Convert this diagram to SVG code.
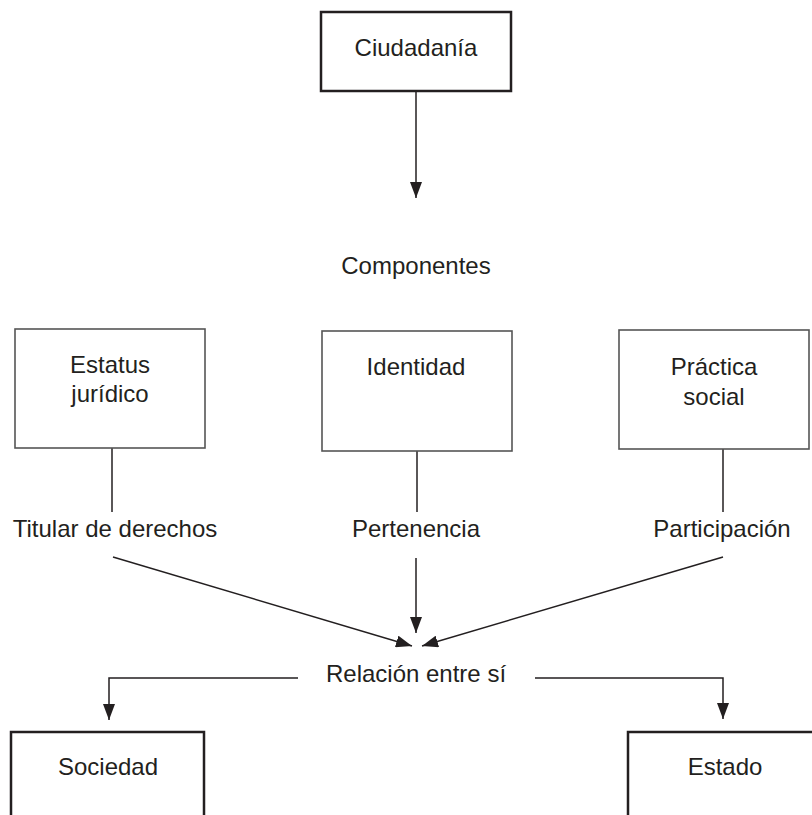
<svg xmlns="http://www.w3.org/2000/svg" width="812" height="815" viewBox="0 0 812 815">
<defs>
<marker id="arr" viewBox="0 0 16 12" refX="16" refY="6" markerWidth="16" markerHeight="12" markerUnits="userSpaceOnUse" orient="auto">
<path d="M0,0 L16,6 L0,12 z" fill="#231f20"/>
</marker>
<style>
.t{font-family:"Liberation Sans",Arial,sans-serif;font-size:24px;fill:#231f20;text-anchor:middle}
.bx{fill:#fff;stroke:#231f20;stroke-width:2.5}
.bt{fill:#fff;stroke:#555;stroke-width:1.6}
.c{fill:none;stroke:#231f20;stroke-width:1.5}
.ca{fill:none;stroke:#231f20;stroke-width:1.5;marker-end:url(#arr)}
</style>
</defs>
<rect width="812" height="815" fill="#fff"/>
<g id="connectors">
<line class="ca" x1="416" y1="92" x2="416" y2="198"/>
<line class="c" x1="112" y1="448" x2="112" y2="512"/>
<line class="c" x1="417" y1="451" x2="417" y2="512"/>
<line class="c" x1="723" y1="449" x2="723" y2="512"/>
<line class="ca" x1="113" y1="557" x2="412" y2="646"/>
<line class="ca" x1="416" y1="558" x2="416" y2="633"/>
<line class="ca" x1="723" y1="557" x2="422" y2="646"/>
<polyline class="ca" points="298,678 109,678 109,720"/>
<polyline class="ca" points="535,678 723,678 723,719"/>
</g>
<g id="ciudadania">
<rect class="bx" x="321" y="12" width="190" height="79"/>
<text class="t" x="416" y="56">Ciudadanía</text>
</g>
<g id="componentes">
<text class="t" x="416" y="274">Componentes</text>
</g>
<g id="estatus">
<rect class="bt" x="15" y="329" width="190" height="119"/>
<text class="t" x="110" y="373">Estatus</text>
<text class="t" x="110" y="402">jurídico</text>
</g>
<g id="identidad">
<rect class="bt" x="322" y="331" width="190" height="120"/>
<text class="t" x="416" y="375">Identidad</text>
</g>
<g id="practica">
<rect class="bt" x="619" y="330" width="190" height="119"/>
<text class="t" x="714" y="375">Práctica</text>
<text class="t" x="714" y="405">social</text>
</g>
<g id="titular">
<text class="t" x="115" y="537">Titular de derechos</text>
</g>
<g id="pertenencia">
<text class="t" x="416" y="537">Pertenencia</text>
</g>
<g id="participacion">
<text class="t" x="722" y="537">Participación</text>
</g>
<g id="relacion">
<text class="t" x="416" y="682">Relación entre sí</text>
</g>
<g id="sociedad">
<rect class="bx" x="11" y="732" width="193" height="100"/>
<text class="t" x="108" y="775">Sociedad</text>
</g>
<g id="estado">
<rect class="bx" x="628" y="732" width="200" height="100"/>
<text class="t" x="725" y="775">Estado</text>
</g>
</svg>
